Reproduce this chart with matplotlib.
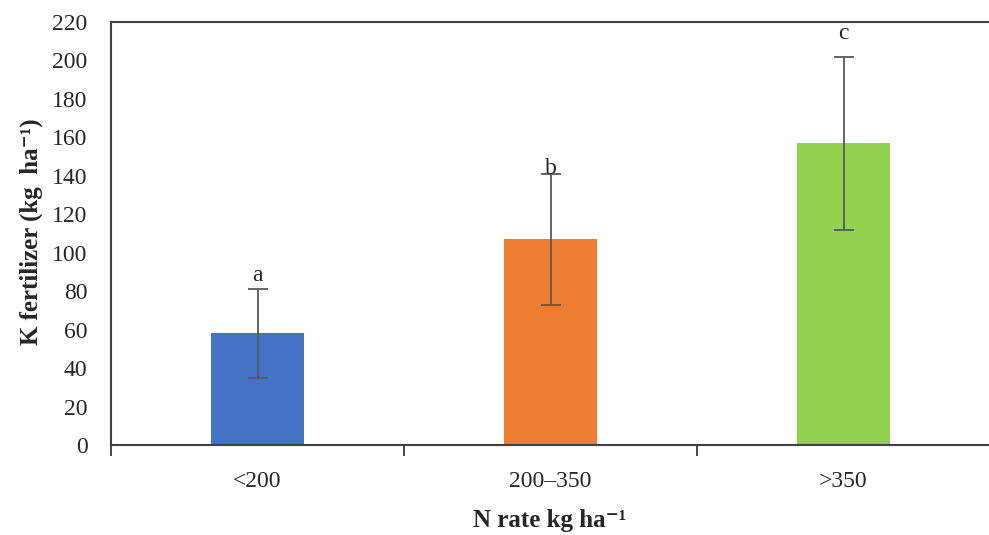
import matplotlib
matplotlib.use("Agg")
import matplotlib.pyplot as plt
import numpy as np

categories = ["<200", "200\u2013350", ">350"]
means = [58, 107, 157]
errors = [23, 34, 45]
letters = ["a", "b", "c"]
letter_y = [88, 144, 214]
colors = ["#4472C4", "#ED7D31", "#92D050"]

plt.rcParams['font.family'] = ['Liberation Serif', 'DejaVu Serif']

W, H = 989, 535
fig = plt.figure(figsize=(W / 100, H / 100), dpi=100)
left, right, bottom, top = 111, 990, 445, 22
ax = fig.add_axes([left / W, 1 - bottom / H, (right - left) / W, (bottom - top) / H])

x = np.arange(len(categories))
ax.bar(x, means, width=0.315, color=colors, zorder=2)
ax.errorbar(x, means, yerr=errors, fmt='none', ecolor='#595959', elinewidth=1.3,
            capsize=7, capthick=1.3, zorder=3)
for xi, lt, ly in zip(x, letters, letter_y):
    ax.text(xi, ly, lt, ha='center', va='center', fontsize=17, color='#262626', zorder=4)

ax.set_xlim(-0.5, 2.5)
ax.set_ylim(0, 220)
ax.set_yticks(np.arange(0, 221, 20))
ax.tick_params(axis='y', length=0, labelsize=17, pad=17, labelcolor='#262626')
ax.set_xticks(x)
ax.set_xticklabels(categories, fontsize=17, color='#262626')
ax.tick_params(axis='x', length=0, pad=19)
ax.set_xticks([-0.5, 0.5, 1.5, 2.5], minor=True)
ax.tick_params(axis='x', which='minor', length=8, width=1.2, color='#262626', direction='out')

for s in ['left', 'bottom', 'top']:
    ax.spines[s].set_color('#404040')
    ax.spines[s].set_linewidth(1.5)
ax.spines['right'].set_visible(False)

fig.text(31 / W, 1 - 232 / H, "K fertilizer (kg  ha\u207b\u00b9)", rotation=90,
         ha='center', va='center', fontsize=18, fontweight='bold', color='#262626')
fig.text(550 / W, 1 - 520 / H, "N rate kg ha\u207b\u00b9", ha='center', va='center',
         fontsize=18, fontweight='bold', color='#262626')

fig.savefig("out.png", dpi=100)
